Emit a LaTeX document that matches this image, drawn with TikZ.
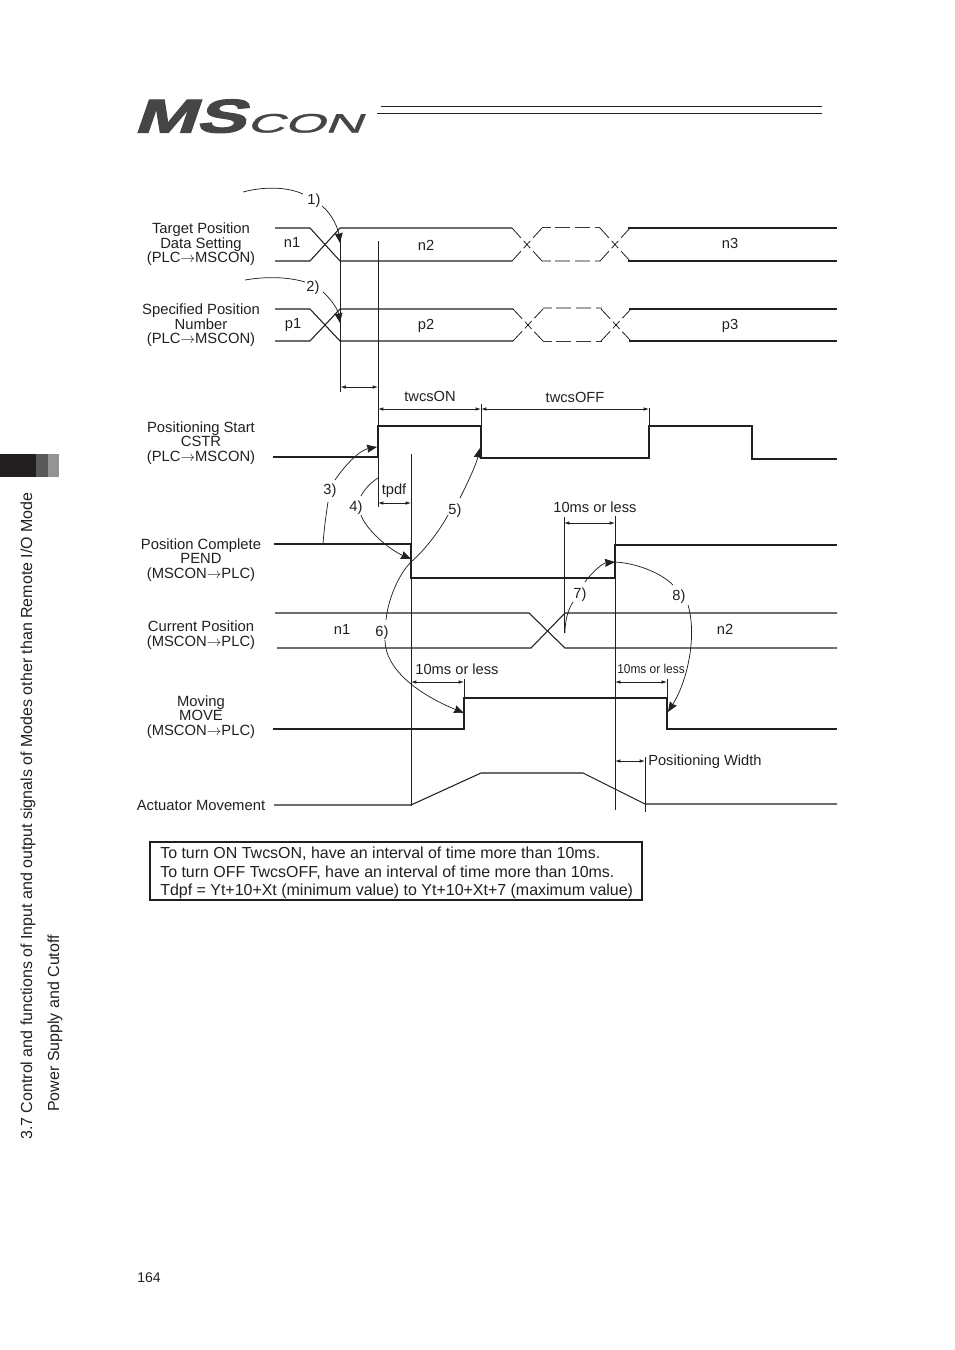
\documentclass[tikz,border=0pt]{standalone}
\usepackage{fontspec}
\setmainfont{Liberation Sans}
\newfontfamily\logoheavy[FakeBold=2.2,FakeSlant=0.22]{Liberation Sans Bold}
\newfontfamily\logolight[FakeBold=0.9,FakeSlant=0.22]{Liberation Sans}
\newcommand{\sigarrow}{\ensuremath{\rightarrow}}
\usetikzlibrary{arrows.meta}
\definecolor{ink}{HTML}{231F20}
\definecolor{logoink}{HTML}{454545}
\tikzset{
  sig/.style={draw=ink,line width=0.8pt,line join=miter},
  rule/.style={draw=ink,line width=0.75pt},
  grid/.style={draw=ink,line width=0.7pt},
  dimline/.style={draw=ink,line width=0.55pt,{Latex[length=4pt,width=2.6pt]}-{Latex[length=4pt,width=2.6pt]}},
  callout/.style={draw=ink,line width=0.55pt},
  calloutend/.style={callout,-{Stealth[length=7.5pt,width=6pt,inset=0.6pt]}},
  xing/.style={draw=ink,line width=0.6pt,dash pattern=on 10pt off 3pt on 7.4pt off 3pt on 10pt},
  stub/.style={draw=ink!90,line width=0.75pt,dash pattern=on 6.8pt off 3pt on 11.2pt off 3.8pt on 11.2pt off 3.8pt on 4.5pt},
  stublight/.style={stub,draw=black!35,line width=1.1pt},
  lab/.style={font=\fontsize{11.1}{10.9}\selectfont,align=center,text=ink,inner sep=0pt},
  txt/.style={font=\fontsize{11}{13}\selectfont,text=ink,inner sep=0pt},
  side/.style={font=\fontsize{12}{14}\selectfont,text=ink,rotate=90,inner sep=0pt}
}
\begin{document}
\begin{tikzpicture}[x=0.75pt,y=-0.75pt]
\useasboundingbox (0,0) rectangle (954,1350);
% ---- header
\node[font=\fontsize{35.5}{36}\logoheavy,text=logoink,xscale=1.57,transform shape,inner sep=0pt,anchor=base west] (logoa) at (133,132.5) {MS};
\node[font=\fontsize{20}{20}\logolight,text=logoink,xscale=1.95,transform shape,inner sep=0pt,anchor=base west] (logob) at (246,132.5) {CON};
\draw[rule] (381,106) -- (822,106);
\draw[rule] (377,113.5) -- (822,113.5);
% ---- side tab
\fill[ink] (0,454) rectangle (36,477);
\fill[black!65] (36,454) rectangle (48,477);
\fill[black!42] (48,454) rectangle (59,477);
\node[side,anchor=west] (sidea) at (28,1140) {3.7 Control and functions of Input and output signals of Modes other than Remote I/O Mode};
\node[side,anchor=west] (sideb) at (55,1112) {Power Supply and Cutoff};
\node[font=\fontsize{10.5}{12}\selectfont,text=ink,inner sep=0pt] (page) at (149,1277.5) {164};
% ---- row labels
\node[lab] (l1) at (201,244.5) {Target Position\\Data Setting\\(PLC\sigarrow MSCON)};
\node[lab] (l2) at (201,325.5) {Specified Position\\Number\\(PLC\sigarrow MSCON)};
\node[lab] (l3) at (201,443) {Positioning Start\\CSTR\\(PLC\sigarrow MSCON)};
\node[lab] (l4) at (201,560) {Position Complete\\PEND\\(MSCON\sigarrow PLC)};
\node[lab,font=\fontsize{11.1}{11.2}\selectfont] (l5) at (201,635.5) {Current Position\\(MSCON\sigarrow PLC)};
\node[lab] (l6) at (201,717) {Moving\\MOVE\\(MSCON\sigarrow PLC)};
\node[lab] (l7) at (201,805) {Actuator Movement};
% ---- bus 1
\draw[sig] (275,228) -- (310,228) -- (340,261) -- (512,261);
\draw[sig] (275,261) -- (310,261) -- (340,228) -- (512,228);
\draw[xing] (512,228) -- (542,261);
\draw[xing] (512,261) -- (542,228);
\draw[stub] (542,227.5) -- (600,227.5);
\draw[stublight] (542,261) -- (600,261);
\draw[xing] (600,228) -- (630,261);
\draw[xing] (600,261) -- (630,228);
\draw[sig] (628,228) -- (837,228);
\draw[sig] (628,261) -- (837,261);
% ---- bus 2
\draw[sig] (275,309) -- (310,309) -- (340,341) -- (513,341);
\draw[sig] (275,341) -- (310,341) -- (340,309) -- (513,309);
\draw[xing] (513,309) -- (543,341);
\draw[xing] (513,341) -- (543,309);
\draw[stublight] (543,308) -- (602,308);
\draw[stub] (543,341) -- (602,341);
\draw[xing] (601,309) -- (631,341);
\draw[xing] (601,341) -- (631,309);
\draw[sig] (629,309) -- (837,309);
\draw[sig] (629,341) -- (837,341);
\node[txt] (n1a) at (292,242) {n1};
\node[txt] (n2a) at (426,245) {n2};
\node[txt] (n3a) at (730,243) {n3};
\node[txt] (p1a) at (293,325) {p1};
\node[txt] (p2a) at (426,326) {p2};
\node[txt] (p3a) at (730,326) {p3};
% ---- CSTR
\draw[sig] (273,457) -- (378,457) -- (378,426) -- (481,426) -- (481,458) -- (649,458) -- (649,426) -- (752,426) -- (752,459) -- (837,459);
% ---- PEND
\draw[sig] (274,544) -- (411,544) -- (411,578) -- (615,578) -- (615,545) -- (837,545);
% ---- Current position
\draw[sig] (275,613) -- (529,613) -- (565,648) -- (837,648);
\draw[sig] (277,648) -- (531,648) -- (565,613) -- (837,613);
\node[txt] (n1b) at (342,629) {n1};
\node[txt] (n2b) at (725,629) {n2};
% ---- MOVE
\draw[sig] (273,729) -- (464,729) -- (464,698) -- (667,698) -- (667,729) -- (837,729);
% ---- Actuator
\draw[sig] (274,805) -- (411,805) -- (481,773) -- (583,773) -- (645,804) -- (837,804);
% ---- vertical guides
\draw[rule] (340.5,238) -- (340.5,392);
\draw[rule] (378,241) -- (378,507);
\draw[grid] (411,454) -- (411,806);
\draw[grid] (481,404) -- (481,426);
\draw[grid] (649,408) -- (649,426);
\draw[grid] (564,517) -- (564,633);
\draw[grid] (615,516) -- (615,810);
\draw[grid] (464,679) -- (464,698);
\draw[grid] (667,679) -- (667,698);
\draw[grid] (645,757) -- (645,812);
% ---- dimensions
\coordinate (g1) at (340.5,387); \coordinate (g2) at (378,387);
\draw[dimline] (g1) -- (g2);
\coordinate (g3) at (378,409); \coordinate (g4) at (481,409); \coordinate (g5) at (649,409);
\draw[dimline] (g3) -- (g4);
\draw[dimline] (g4) -- (g5);
\coordinate (g6) at (378,503); \coordinate (g7) at (411,503);
\draw[dimline] (g6) -- (g7);
\coordinate (g8) at (564,523); \coordinate (g9) at (615,523);
\draw[dimline] (g8) -- (g9);
\coordinate (g10) at (411,682); \coordinate (g11) at (464,682);
\draw[dimline] (g10) -- (g11);
\coordinate (g12) at (615,682); \coordinate (g13) at (667,682);
\draw[dimline] (g12) -- (g13);
\coordinate (g14) at (615,761); \coordinate (g15) at (645,761);
\draw[dimline] (g14) -- (g15);
\node[txt] (t1) at (430,396) {twcsON};
\node[txt] (t2) at (575,397) {twcsOFF};
\node[txt] (t3) at (394,491) {tpdf};
\node[txt] (t4) at (595,507) {10ms or less};
\node[txt] (t5) at (457,669) {10ms or less};
\node[txt] (t6) at (651,669) {\scalebox{.93}[1]{\fontsize{9.6}{11}\selectfont 10ms or less}};
\node[txt,anchor=west] (t7) at (648,762) {Positioning Width};
% ---- numbered callouts
\node[txt] (k1) at (314,201) {1)};
\node[txt] (k2) at (313,288) {2)};
\node[txt] (k3) at (330,491) {3)};
\node[txt] (k4) at (356,508) {4)};
\node[txt] (k5) at (455,511) {5)};
\node[txt] (k6) at (382,633) {6)};
\node[txt] (k7) at (580,595) {7)};
\node[txt] (k8) at (679,597) {8)};
\draw[callout] (243,192) .. controls (262,187) and (285,186) .. (303,194);
\draw[calloutend] (322,206) .. controls (332,214) and (338,228) .. (340,243);
\draw[callout] (245,280) .. controls (262,277) and (285,276) .. (305,282);
\draw[calloutend] (323,292) .. controls (332,300) and (338,310) .. (340,323);
\draw[callout] (323,544) .. controls (324,530) and (326,515) .. (328,502);
\draw[calloutend] (335,480) .. controls (345,465) and (360,450) .. (377,447);
\draw[callout] (378,478) .. controls (370,483) and (364,490) .. (361,496);
\draw[calloutend] (361,515) .. controls (366,530) and (390,550) .. (411,559);
\draw[callout] (411,562) .. controls (425,550) and (440,530) .. (448,515);
\draw[calloutend] (460,498) .. controls (468,482) and (476,465) .. (480,448);
\draw[callout] (411,562) .. controls (398,575) and (388,600) .. (386,620);
\draw[calloutend] (385,640) .. controls (385,670) and (420,695) .. (464,713);
\draw[callout] (565,633) .. controls (565,620) and (568,610) .. (573,602);
\draw[calloutend] (585,582) .. controls (592,572) and (603,563) .. (615,562);
\draw[callout] (615,562) .. controls (635,563) and (660,572) .. (673,585);
\draw[calloutend] (688,605) .. controls (697,635) and (688,680) .. (668,712);
% ---- note box
\node[draw=ink,line width=1pt,minimum width=369pt,minimum height=43.5pt,inner sep=0pt] (box) at (396,871) {};
\node[anchor=west,align=left,font=\fontsize{11.97}{13.9}\selectfont,text=ink,inner sep=0pt] (note) at (160,873) {To turn ON TwcsON, have an interval of time more than 10ms.\\To turn OFF TwcsOFF, have an interval of time more than 10ms.\\Tdpf = Yt+10+Xt (minimum value) to Yt+10+Xt+7 (maximum value)};
\end{tikzpicture}
\end{document}
